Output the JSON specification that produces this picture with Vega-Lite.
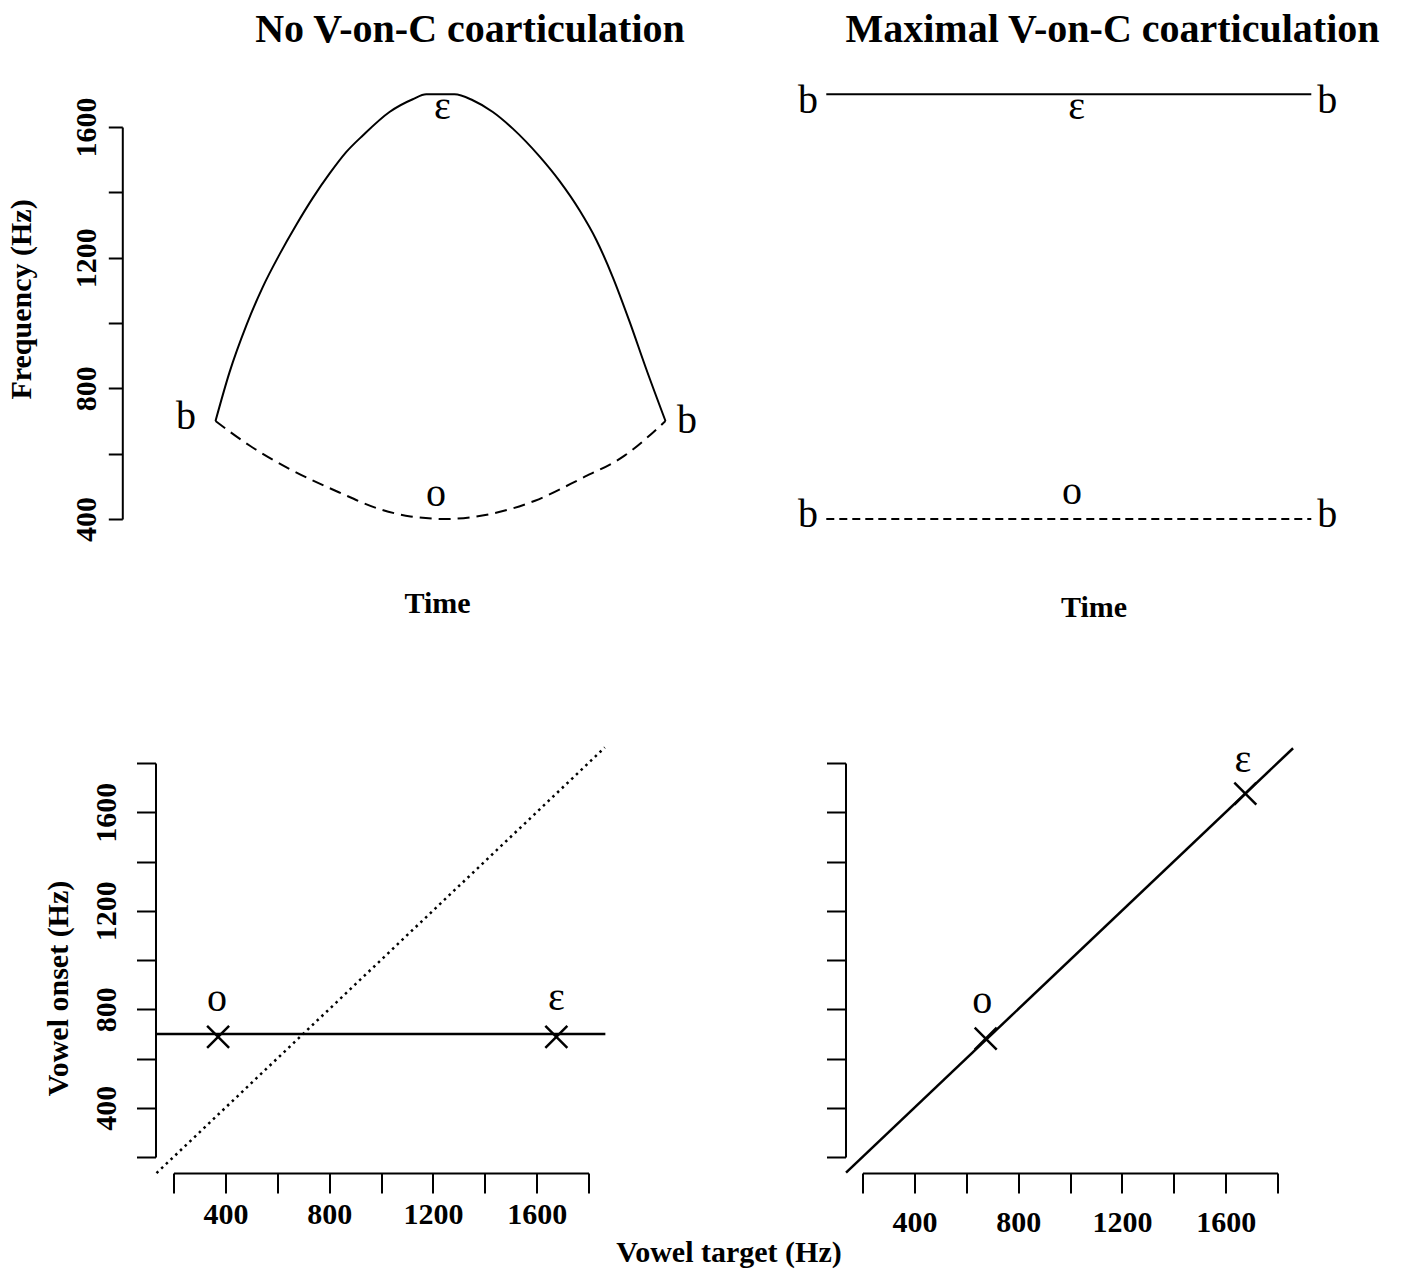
{
  "$schema": "https://vega.github.io/schema/vega-lite/v6.json",
  "background": "white",
  "padding": {"left": 5.5, "top": 9, "right": 5, "bottom": 5},
  "config": {
    "view": {"stroke": null},
    "font": "Liberation Serif",
    "axis": {"grid": false, "domainColor": "black", "tickColor": "black", "labelColor": "black", "titleColor": "black", "domainWidth": 2, "tickWidth": 2, "labelFont": "Liberation Serif", "titleFont": "Liberation Serif", "labelFontSize": 30, "labelFontWeight": "bold", "titleFontSize": 30, "titleFontWeight": "bold", "labelOverlap": false, "labelFlush": false},
    "title": {"font": "Liberation Serif", "fontSize": 40, "fontWeight": "bold", "color": "black", "anchor": "middle", "baseline": "alphabetic", "frame": "group"},
    "text": {"font": "Liberation Serif", "fontSize": 40, "color": "black"}
  },
  "datasets": {
    "tl_e": [
      {"t": 0, "f": 700}, {"t": 9.33, "f": 849}, {"t": 20.5, "f": 992}, {"t": 31.5, "f": 1110}, {"t": 42.7, "f": 1210}, {"t": 53.8, "f": 1300}, {"t": 64.9, "f": 1383}, {"t": 76, "f": 1457}, {"t": 87.1, "f": 1523}, {"t": 98.2, "f": 1574}, {"t": 116, "f": 1646}, {"t": 131.5, "f": 1685}, {"t": 140.5, "f": 1700}, {"t": 159.3, "f": 1700}, {"t": 171.5, "f": 1682}, {"t": 184.9, "f": 1646}, {"t": 198.2, "f": 1595}, {"t": 216, "f": 1510}, {"t": 229.3, "f": 1435}, {"t": 242.7, "f": 1345}, {"t": 253.8, "f": 1255}, {"t": 264.9, "f": 1140}, {"t": 276, "f": 1005}, {"t": 287.1, "f": 860}, {"t": 300, "f": 700}
    ],
    "tl_o": [
      {"t": 0, "f": 700}, {"t": 22.7, "f": 625}, {"t": 49.5, "f": 553}, {"t": 82.2, "f": 482}, {"t": 109, "f": 431}, {"t": 130, "f": 408}, {"t": 153, "f": 400}, {"t": 183, "f": 415}, {"t": 213, "f": 456}, {"t": 243, "f": 522}, {"t": 272.7, "f": 594}, {"t": 300, "f": 700}
    ],
    "tl_labels": [
      {"t": -19.6, "f": 712, "label": "b"}, {"t": 314.3, "f": 701, "label": "b"}, {"t": 151.3, "f": 1662, "label": "ɛ"}, {"t": 147, "f": 477, "label": "o"}
    ],
    "tr_e": [{"t": 0, "f": 1700}, {"t": 300, "f": 1700}],
    "tr_o": [{"t": 0, "f": 400}, {"t": 300, "f": 400}],
    "tr_labels": [
      {"t": -11.3, "f": 1679, "label": "b"}, {"t": 309.8, "f": 1679, "label": "b"}, {"t": 154.8, "f": 1660, "label": "ɛ"}, {"t": 152, "f": 483, "label": "o"}, {"t": -11.3, "f": 412, "label": "b"}, {"t": 309.8, "f": 412, "label": "b"}
    ],
    "bl_onset": [{"target": 130.6, "onset": 700}, {"target": 1865, "onset": 700}],
    "bl_identity": [{"target": 134.5, "onset": 134.5}, {"target": 1863, "onset": 1863}],
    "bl_cross": [{"target": 372, "onset": 688}, {"target": 1676, "onset": 688}],
    "bl_labels": [{"target": 368, "onset": 842, "label": "o"}, {"target": 1676, "onset": 846, "label": "ɛ"}],
    "br_identity": [{"target": 136.5, "onset": 136.5}, {"target": 1860, "onset": 1860}],
    "br_cross": [{"target": 675, "onset": 681}, {"target": 1676, "onset": 1676}],
    "br_labels": [{"target": 662, "onset": 835, "label": "o"}, {"target": 1667, "onset": 1811, "label": "ɛ"}]
  },
  "columns": 2,
  "bounds": "flush",
  "align": "all",
  "spacing": {"row": 242, "column": 274},
  "concat": [
    {
      "width": 415, "height": 392,
      "title": {"text": "No V-on-C coarticulation", "dx": 89, "offset": 37},
      "encoding": {
        "x": {"field": "t", "type": "quantitative", "scale": {"domain": [-28, 248.67], "nice": false, "zero": false},
          "axis": {"title": "Time", "domain": false, "ticks": false, "labels": false, "titleX": 263.5, "titleY": 93, "titleBaseline": "alphabetic", "titleAlign": "center"}},
        "y": {"field": "f", "type": "quantitative", "scale": {"domain": [400, 1600], "nice": false, "zero": false},
          "axis": {"title": "Frequency (Hz)", "values": [400, 600, 800, 1000, 1200, 1400, 1600], "format": "d", "labelExpr": "datum.value % 400 == 0 ? datum.label : ''", "offset": 51.2, "tickSize": 14, "labelAngle": -90, "labelAlign": "center", "labelBaseline": "alphabetic", "labelPadding": 12.5, "titleX": -92, "titleY": 172, "titleAngle": -90, "titleAlign": "center", "titleBaseline": "alphabetic"}}
      },
      "layer": [
        {"data": {"name": "tl_e"}, "mark": {"type": "line", "color": "black", "strokeWidth": 2, "interpolate": "monotone"}},
        {"data": {"name": "tl_o"}, "mark": {"type": "line", "color": "black", "strokeWidth": 2, "strokeDash": [12, 7], "interpolate": "monotone"}},
        {"data": {"name": "tl_labels"}, "mark": {"type": "text", "align": "center", "baseline": "middle"}, "encoding": {"text": {"field": "label"}}}
      ]
    },
    {
      "width": 415, "height": 392,
      "title": {"text": "Maximal V-on-C coarticulation", "dx": 42.5, "offset": 31},
      "encoding": {
        "x": {"field": "t", "type": "quantitative", "scale": {"domain": [22.4, 279.1], "nice": false, "zero": false},
          "axis": {"title": "Time", "domain": false, "ticks": false, "labels": false, "titleX": 231, "titleY": 97, "titleBaseline": "alphabetic", "titleAlign": "center"}},
        "y": {"field": "f", "type": "quantitative", "scale": {"domain": [400, 1600], "nice": false, "zero": false}, "axis": null}
      },
      "layer": [
        {"data": {"name": "tr_e"}, "mark": {"type": "line", "color": "black", "strokeWidth": 2}},
        {"data": {"name": "tr_o"}, "mark": {"type": "line", "color": "black", "strokeWidth": 2, "strokeDash": [8, 5]}},
        {"data": {"name": "tr_labels"}, "mark": {"type": "text", "align": "center", "baseline": "middle"}, "encoding": {"text": {"field": "label"}}}
      ]
    },
    {
      "width": 415, "height": 394,
      "encoding": {
        "x": {"field": "target", "type": "quantitative", "scale": {"domain": [200, 1800], "nice": false, "zero": false},
          "axis": {"title": "Vowel target (Hz)", "values": [200, 400, 600, 800, 1000, 1200, 1400, 1600, 1800], "format": "d", "labelExpr": "datum.value % 400 == 0 ? datum.label : ''", "offset": 16, "tickSize": 20, "labelPadding": 6, "labelBaseline": "top", "labelAngle": 0, "titleX": 555, "titleY": 88, "titleBaseline": "alphabetic", "titleAlign": "center"}},
        "y": {"field": "onset", "type": "quantitative", "scale": {"domain": [200, 1800], "nice": false, "zero": false},
          "axis": {"title": "Vowel onset (Hz)", "values": [200, 400, 600, 800, 1000, 1200, 1400, 1600, 1800], "format": "d", "labelExpr": "datum.value % 400 == 0 ? datum.label : ''", "offset": 18, "tickSize": 19, "labelAngle": -90, "labelAlign": "center", "labelBaseline": "alphabetic", "labelPadding": 21, "titleX": -88, "titleY": 225, "titleAngle": -90, "titleAlign": "center", "titleBaseline": "alphabetic"}}
      },
      "layer": [
        {"data": {"name": "bl_onset"}, "mark": {"type": "line", "color": "black", "strokeWidth": 2.5}},
        {"data": {"name": "bl_identity"}, "mark": {"type": "line", "color": "black", "strokeWidth": 2.5, "strokeDash": [2.5, 4]}},
        {"data": {"name": "bl_cross"}, "mark": {"type": "point", "shape": "M-1,-1L1,1M-1,1L1,-1", "filled": false, "size": 484, "strokeWidth": 2.5, "color": "black", "opacity": 1}},
        {"data": {"name": "bl_labels"}, "mark": {"type": "text", "align": "center", "baseline": "middle"}, "encoding": {"text": {"field": "label"}}}
      ]
    },
    {
      "width": 415, "height": 394,
      "encoding": {
        "x": {"field": "target", "type": "quantitative", "scale": {"domain": [200, 1800], "nice": false, "zero": false},
          "axis": {"title": null, "values": [200, 400, 600, 800, 1000, 1200, 1400, 1600, 1800], "format": "d", "labelExpr": "datum.value % 400 == 0 ? datum.label : ''", "offset": 16, "tickSize": 20, "labelPadding": 14, "labelBaseline": "top", "labelAngle": 0}},
        "y": {"field": "onset", "type": "quantitative", "scale": {"domain": [200, 1800], "nice": false, "zero": false},
          "axis": {"title": null, "values": [200, 400, 600, 800, 1000, 1200, 1400, 1600, 1800], "labels": false, "offset": 17, "tickSize": 19}}
      },
      "layer": [
        {"data": {"name": "br_identity"}, "mark": {"type": "line", "color": "black", "strokeWidth": 2.5}},
        {"data": {"name": "br_cross"}, "mark": {"type": "point", "shape": "M-1,-1L1,1M-1,1L1,-1", "filled": false, "size": 484, "strokeWidth": 2.5, "color": "black", "opacity": 1}},
        {"data": {"name": "br_labels"}, "mark": {"type": "text", "align": "center", "baseline": "middle"}, "encoding": {"text": {"field": "label"}}}
      ]
    }
  ]
}
